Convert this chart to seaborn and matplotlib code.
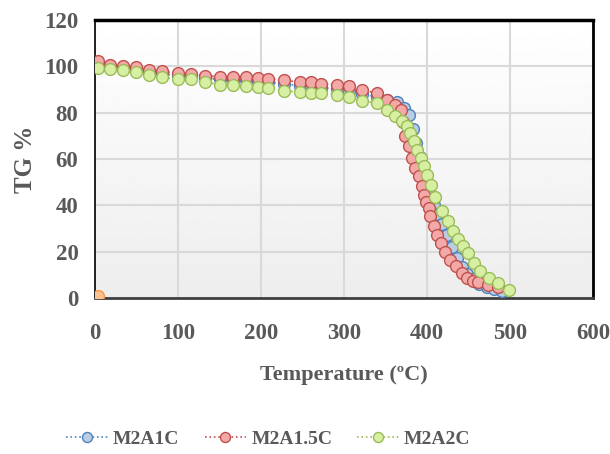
import numpy as np
import pandas as pd
import matplotlib
matplotlib.use("Agg")
import matplotlib.pyplot as plt
import seaborn as sns

# M2A1C (blue) - mostly hidden behind the other two
t_m2a1c = [4, 18, 34, 49, 65, 81, 100, 116, 132, 151, 166, 182, 196, 208, 228, 247, 260, 272,
           291, 306, 322, 340, 352, 364, 372, 378, 383, 387, 391, 395, 399, 403, 408, 413, 418,
           424, 430, 436, 442, 448, 455, 463, 472, 481, 490]
tg_m2a1c = [100.5, 99.5, 99, 98.5, 97.5, 96.8, 96, 95.7, 95, 94.3, 94.2, 94, 93.6, 93.2, 92.5,
            91.5, 91.3, 90.8, 90.3, 89.5, 88, 86.8, 85.5, 84.5, 82, 79, 73, 67, 61, 55, 50, 45,
            40, 36, 32, 27, 22, 17, 13.5, 10.5, 8, 6, 4.8, 3.8, 3]

# M2A1.5C (red)
t_m2a15c = [4, 18, 34, 49, 65, 81, 100, 116, 132, 151, 166, 182, 196, 208, 228, 247, 260, 272,
            291, 306, 322, 340, 352, 362, 369, 371, 374, 378, 382, 386, 390, 394, 396, 399, 402,
            404, 408, 412, 417, 422, 428, 435, 442, 448, 455, 462, 474, 486]
tg_m2a15c = [102.2, 100.7, 100, 99.6, 98.6, 97.8, 97.1, 96.8, 96, 95.4, 95.4, 95.4, 95, 94.6,
             94, 93.1, 93, 92.5, 92.1, 91.3, 89.8, 88.3, 85.6, 83.3, 81.3, 76, 70, 65.5, 60.4,
             56.1, 52.5, 48.2, 44.6, 41.5, 38.9, 35.2, 30.9, 27.3, 23.5, 19.8, 16.5, 13.6, 10.8,
             8.6, 7.2, 6.7, 5.7, 4.5]

# M2A2C (green)
t_m2a2c = [4, 18, 34, 49, 65, 81, 100, 116, 132, 151, 166, 182, 196, 208, 228, 247, 260, 272,
           291, 306, 322, 340, 352, 362, 370, 376, 380, 384.5, 388.5, 392.5, 396.5, 400.5, 404.5,
           410, 418, 425, 431, 437, 443, 449, 457, 464, 475, 486, 499]
tg_m2a2c = [99.3, 98.9, 98.3, 97.4, 96.4, 95.2, 94.3, 94.3, 93.1, 92.1, 92.1, 91.7, 91.2, 90.7,
            89.5, 88.7, 88.5, 88.5, 87.8, 86.8, 85.2, 84, 81.3, 78.4, 76.3, 74.1, 71.2, 67.6, 64,
            60.4, 56.8, 53.2, 48.9, 43.5, 37.5, 33, 29, 25.5, 22.3, 19.2, 15.1, 11.5, 8.6, 6.5, 3.3]

# stray point at the origin
t_extra = [3]
tg_extra = [0.6]

x_ticks = [0, 100, 200, 300, 400, 500, 600]
y_ticks = [0, 20, 40, 60, 80, 100, 120]

series = [
    ("M2A1C", t_m2a1c, tg_m2a1c, "#4f81bd", "#b9cde5"),
    ("M2A1.5C", t_m2a15c, tg_m2a15c, "#c0504d", "#f2a9a7"),
    ("M2A2C", t_m2a2c, tg_m2a2c, "#9bbb59", "#d7efa3"),
]

sns.set_style("white")
plt.rcParams['font.family'] = ['Liberation Serif', 'DejaVu Serif']
text_color = "#595959"

fig = plt.figure(figsize=(6.1, 4.54), dpi=100)
ax = fig.add_axes([0.156, 0.344, 0.816, 0.612])

# soft background gradient
grad = np.linspace(1.0, 0.93, 100).reshape(-1, 1)
ax.imshow(grad, extent=[0, 600, 0, 120], aspect='auto', cmap='gray', vmin=0, vmax=1, zorder=0)

for name, t, tg, edge, face in series:
    df = pd.DataFrame({"T": t, "TG": tg})
    sns.lineplot(data=df, x="T", y="TG", ax=ax, sort=False, color=edge, linestyle=":",
                 linewidth=1.2, marker="o", markersize=8.5, markerfacecolor=face,
                 markeredgecolor=edge, markeredgewidth=1.0, label=name, zorder=3)

ax.plot(t_extra, tg_extra, marker="o", markersize=8.5, linestyle="none",
        markerfacecolor="#fac090", markeredgecolor="#f79646", zorder=4)

ax.set_xlim(0, 600)
ax.set_ylim(0, 120)
ax.set_xticks(x_ticks)
ax.set_yticks(y_ticks)
ax.grid(True, color="#d9d9d9", linewidth=1.5)
ax.set_axisbelow(True)
ax.tick_params(length=0, labelsize=16.5, colors=text_color)
ax.tick_params(axis="x", pad=18)
ax.tick_params(axis="y", pad=12)
for lab in ax.get_xticklabels() + ax.get_yticklabels():
    lab.set_fontweight("bold")

ax.spines["top"].set_color("black")
ax.spines["top"].set_linewidth(2.5)
ax.spines["right"].set_color("black")
ax.spines["right"].set_linewidth(2)
ax.spines["left"].set_color("black")
ax.spines["left"].set_linewidth(1.2)
ax.spines["bottom"].set_color("#404040")
ax.spines["bottom"].set_linewidth(2)

ax.set_xlabel("Temperature (ºC)", fontsize=16, fontweight="bold", color=text_color, labelpad=15)
ax.set_ylabel("TG %", fontsize=18, fontweight="bold", color=text_color, labelpad=5)

leg = fig.legend(*ax.get_legend_handles_labels(), loc="center", bbox_to_anchor=(0.44, 0.033),
                 ncol=3, frameon=False, fontsize=14, handlelength=2.15, columnspacing=1.3,
                 handletextpad=0.25, markerscale=0.85)
ax.get_legend().remove()
for txt in leg.get_texts():
    txt.set_color(text_color)
    txt.set_fontweight("bold")

fig.savefig("out.png", dpi=100)
